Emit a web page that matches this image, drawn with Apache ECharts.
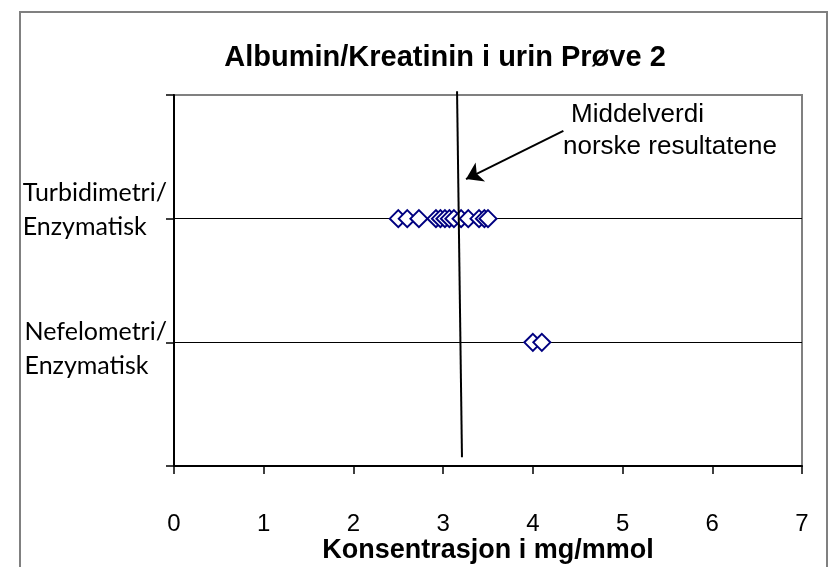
<!DOCTYPE html>
<html>
<head>
<meta charset="utf-8">
<script src="https://cdn.jsdelivr.net/npm/echarts@6/dist/echarts.min.js"></script>
<style>
  html, body { margin: 0; padding: 0; background: #fff; }
  #chart { width: 831px; height: 567px; }
</style>
</head>
<body>
<div id="chart"></div>
<script>
// values
const chartTitle = 'Albumin/Kreatinin i urin Prøve 2'
const xAxisTitle = 'Konsentrasjon i mg/mmol'
const xTicks = [0, 1, 2, 3, 4, 5, 6, 7]
const methodLabels = ['Turbidimetri/\nEnzymatisk', 'Nefelometri/\nEnzymatisk']
const methodRows = [2, 1]
const turbidimetriValues = [2.5, 2.6, 2.73, 2.92, 2.97, 3.02, 3.07, 3.12, 3.2, 3.28, 3.4, 3.46, 3.5]
const nefelometriValues = [4.0, 4.1]
// mean line (slightly slanted in the original) and arrow pointing to it
const meanLineX = [3.155, 3.21]
const meanLineY = [3.03, 0.07]
const arrowFrom = [4.34, 2.71]
const arrowTo = [3.255, 2.32]
const noteLines = ['Middelverdi', 'norske resultatene']

const chart = echarts.init(document.getElementById('chart'))

// y label formatter: two lines, left aligned inside the block, nudged like the original
const methodLabel = (value) => {
  const idx = methodRows.indexOf(value)
  if (idx < 0) return ''
  const lines = methodLabels[idx].split('\n').map((l) => '{m|' + l + '}')
  if (idx === 0) return lines.join('\n') + '\n{s1| }'
  return '{s2| }\n' + lines.join('\n')
}

const option = {
  animation: false,
  backgroundColor: '#fff',
  title: {
    text: chartTitle,
    left: 440,
    top: 38,
    textAlign: 'center',
    textStyle: {
      fontFamily: 'Liberation Sans',
      fontSize: 29,
      fontWeight: 'bold',
      color: '#000',
    },
  },
  grid: {
    left: 174,
    right: 29,
    top: 95,
    bottom: 101,
    outerBoundsMode: 'none',
    show: true,
    borderColor: '#808080',
    borderWidth: 2,
  },
  xAxis: {
    type: 'value',
    min: xTicks[0],
    max: xTicks[xTicks.length - 1],
    interval: 1,
    name: xAxisTitle,
    nameLocation: 'middle',
    nameGap: 71,
    nameMoveOverlap: false,
    nameTextStyle: {
      fontFamily: 'Liberation Sans',
      fontSize: 27,
      fontWeight: 'bold',
      color: '#000',
    },
    axisLine: { show: true, lineStyle: { color: '#000', width: 2 } },
    axisTick: { show: true, length: 8, lineStyle: { color: '#000', width: 1.5 } },
    axisLabel: {
      margin: 46,
      fontFamily: 'Liberation Sans',
      fontSize: 24,
      color: '#000',
    },
    splitLine: { show: false },
  },
  yAxis: {
    type: 'value',
    min: 0,
    max: 3,
    interval: 1,
    axisLine: { show: true, lineStyle: { color: '#000', width: 2 } },
    axisTick: { show: true, length: 8, lineStyle: { color: '#000', width: 1.5 } },
    splitLine: {
      show: true,
      showMinLine: false,
      showMaxLine: false,
      lineStyle: { color: '#000', width: 1 },
    },
    axisLabel: {
      margin: 7,
      align: 'right',
      formatter: methodLabel,
      rich: {
        m: { align: 'left', fontFamily: 'Lato', fontSize: 25, lineHeight: 34, color: '#000' },
        s1: { fontSize: 10, lineHeight: 18 },
        s2: { fontSize: 10, lineHeight: 14 },
      },
    },
  },
  graphic: [
    {
      type: 'rect',
      z: -10,
      silent: true,
      shape: { x: 20, y: 12, width: 807, height: 600 },
      style: { fill: 'none', stroke: '#808080', lineWidth: 2 },
    },
    {
      type: 'text',
      x: 571,
      y: 115,
      style: {
        text: noteLines[0],
        font: '26px "Liberation Sans"',
        fill: '#000',
        verticalAlign: 'middle',
      },
    },
    {
      type: 'text',
      x: 563,
      y: 147,
      style: {
        text: noteLines[1],
        font: '26px "Liberation Sans"',
        fill: '#000',
        verticalAlign: 'middle',
      },
    },
  ],
  series: [
    {
      name: 'Turbidimetri/Enzymatisk',
      type: 'scatter',
      symbol: 'diamond',
      symbolSize: 17,
      data: turbidimetriValues.map((v) => [v, methodRows[0]]),
      itemStyle: { color: '#fff', borderColor: '#000080', borderWidth: 2, opacity: 1 },
      z: 3,
    },
    {
      name: 'Nefelometri/Enzymatisk',
      type: 'scatter',
      symbol: 'diamond',
      symbolSize: 17,
      data: nefelometriValues.map((v) => [v, methodRows[1]]),
      itemStyle: { color: '#fff', borderColor: '#000080', borderWidth: 2, opacity: 1 },
      z: 3,
    },
    {
      name: 'Middelverdi',
      type: 'line',
      clip: false,
      symbol: 'none',
      data: meanLineX.map((x, i) => [x, meanLineY[i]]),
      lineStyle: { color: '#000', width: 2 },
      z: 5,
      markLine: {
        silent: true,
        symbol: ['none', 'arrow'],
        symbolSize: 16,
        label: { show: false },
        lineStyle: { color: '#000', width: 2, type: 'solid' },
        data: [[{ coord: arrowFrom }, { coord: arrowTo }]],
      },
    },
  ],
}

chart.setOption(option)
</script>
</body>
</html>
